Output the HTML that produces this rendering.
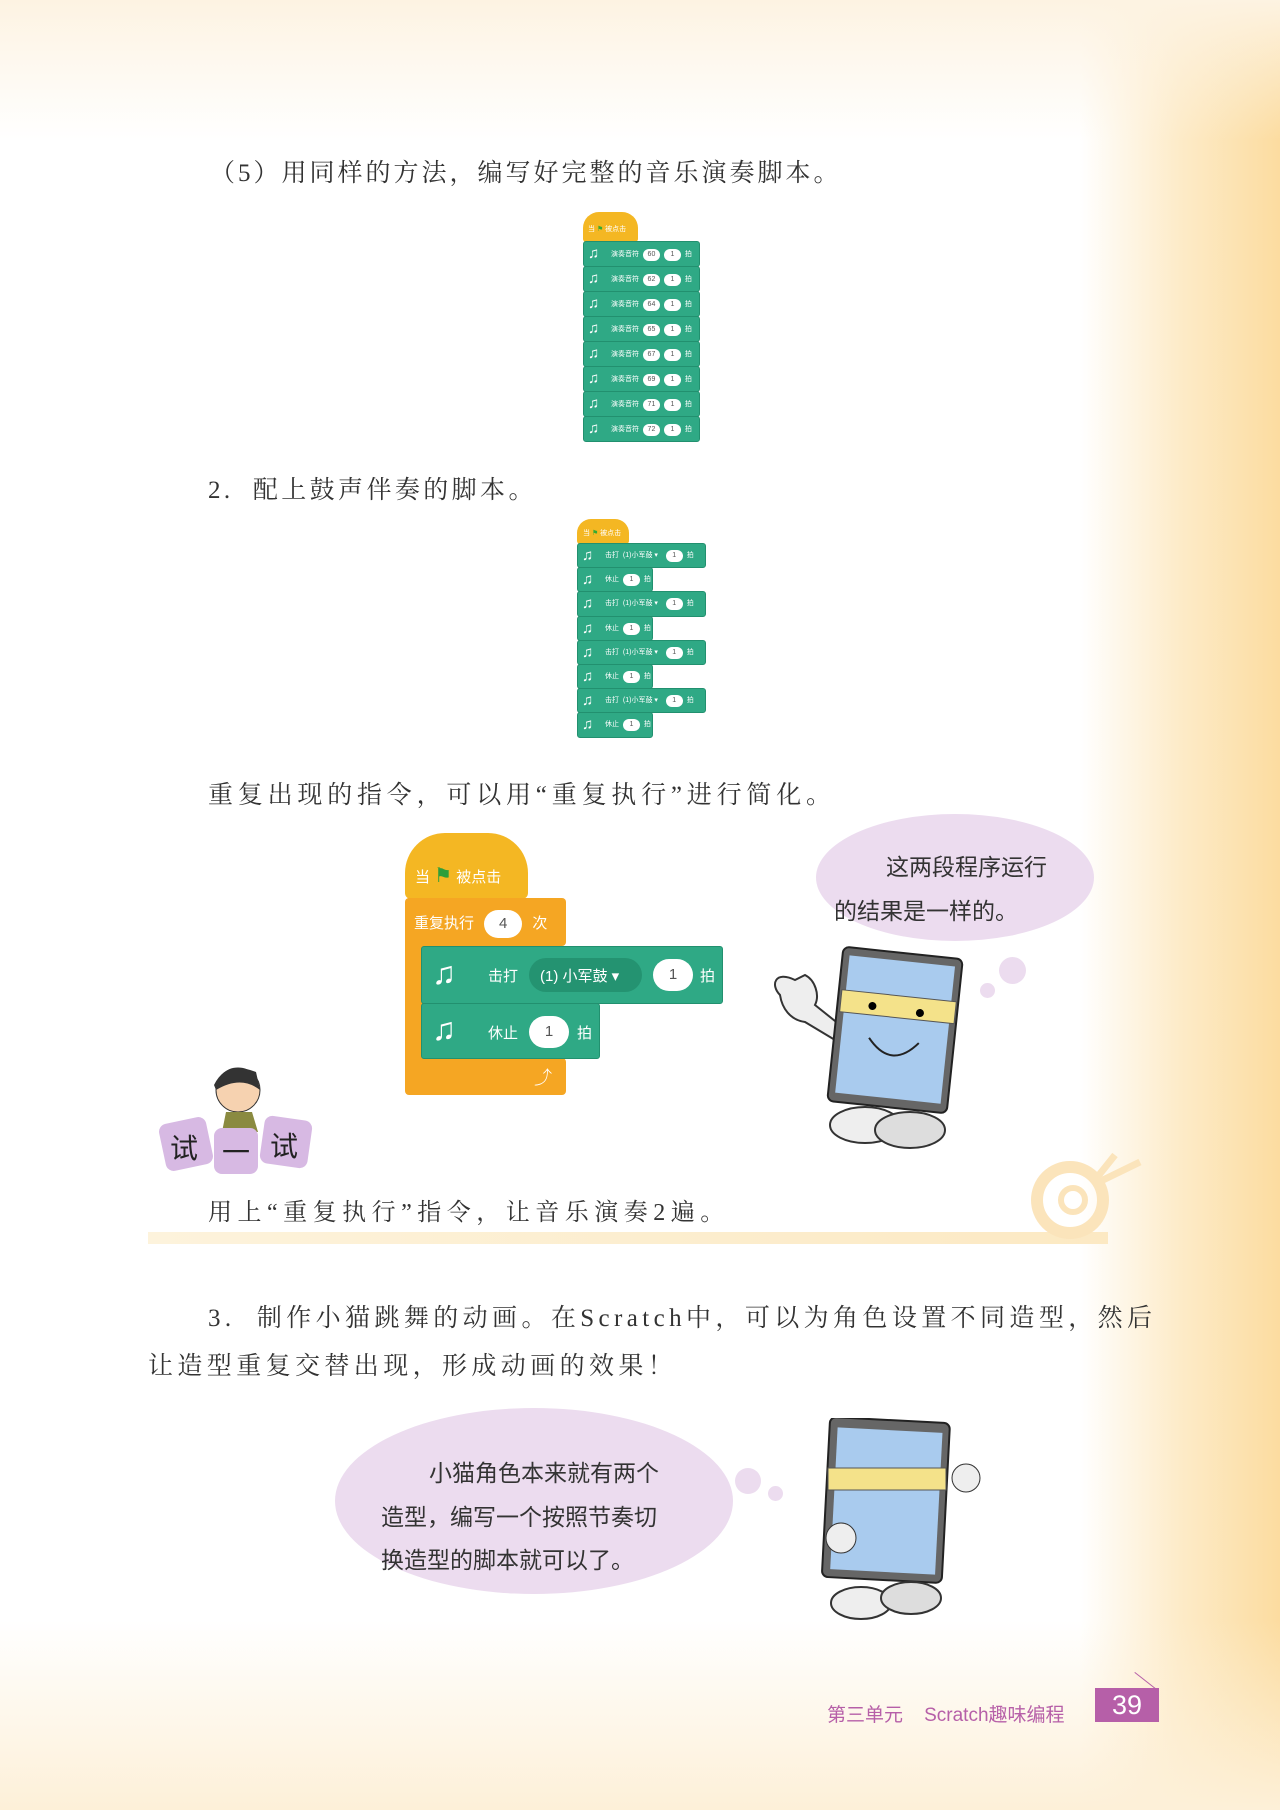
<!DOCTYPE html>
<html><head><meta charset="utf-8"><style>
*{margin:0;padding:0;box-sizing:border-box}
body{width:1280px;height:1810px;position:relative;overflow:hidden;background:#fff;font-family:"Liberation Serif","Noto Serif CJK SC",serif}
.bg{position:absolute;inset:0;background:linear-gradient(90deg,rgba(255,255,255,0) 0,rgba(255,255,255,0) 1080px,#fdebc8 1180px,#fcdca0 1280px)}
.bgt{position:absolute;left:0;top:0;width:1280px;height:140px;background:linear-gradient(180deg,#fdf3e2 0,rgba(255,255,255,0) 140px)}
.bgb{position:absolute;left:0;top:1620px;width:1280px;height:190px;background:linear-gradient(0deg,#fdf0d8 0,rgba(255,255,255,0) 190px)}
.t{position:absolute;font-size:25px;color:#333;white-space:nowrap;letter-spacing:1px}
.s{font-family:"Liberation Sans","Noto Sans CJK SC",sans-serif}
.ab{position:absolute}
.g{position:absolute;background:#2fa985;border:1px solid #22906f;border-radius:3px;color:#fff;font-family:"Liberation Sans","Noto Sans CJK SC",sans-serif;white-space:nowrap}
.ov{display:inline-block;background:#fff;color:#555;border-radius:10px;text-align:center}
</style></head><body>
<div class="bg"></div><div class="bgt"></div><div class="bgb"></div>

<div class="t" style="left:210px;top:153px;letter-spacing:3px">（5）用同样的方法，编写好完整的音乐演奏脚本。</div>

<div class="ab s" style="left:583px;top:212px;width:55px;height:30px;background:#f4b723;border-radius:16px 16px 3px 3px;color:#fff;font-size:7px;padding:12px 0 0 5px">当 <span style="color:#3a3">⚑</span> 被点击</div>
<div id="b1"></div>

<div class="t" style="left:208px;top:470px;letter-spacing:3.4px">2.&nbsp; 配上鼓声伴奏的脚本。</div>
<div class="ab s" style="left:577px;top:519px;width:52px;height:25px;background:#f4b723;border-radius:14px 14px 3px 3px;color:#fff;font-size:7px;padding:9px 0 0 6px">当 <span style="color:#3a3">⚑</span> 被点击</div>
<div id="b2"></div>

<div class="t" style="left:208px;top:775px;letter-spacing:4.8px">重复出现的指令，可以用“重复执行”进行简化。</div>

<div class="ab s" style="left:405px;top:833px;width:123px;height:66px;background:#f4b723;border-radius:40px 40px 6px 6px;color:#fff;font-size:15px;padding:30px 0 0 10px">当 <span style="color:#2e9e3a;font-size:20px">⚑</span> 被点击</div>
<div class="ab s" style="left:405px;top:898px;width:161px;height:48px;background:#f5a623;border-radius:4px;color:#fff;font-size:15px;padding:12px 0 0 9px">重复执行 <span class="ov" style="width:38px;height:28px;line-height:28px;border-radius:14px;margin:0 6px">4</span> 次</div>
<div class="ab" style="left:405px;top:940px;width:20px;height:125px;background:#f5a623"></div>
<div class="ab" style="left:405px;top:1058px;width:161px;height:37px;background:#f5a623;border-radius:0 4px 4px 4px;color:#fff;font-size:18px;text-align:right;padding:6px 14px 0 0">⤴</div>
<div class="g" style="left:421px;top:946px;width:302px;height:58px;font-size:15px">
<span style="position:absolute;left:10px;top:8px;font-size:32px">♫</span>
<span style="position:absolute;left:66px;top:18px">击打</span>
<span style="position:absolute;left:107px;top:11px;width:113px;height:34px;border-radius:17px;background:#249371;padding:7px 0 0 11px">(1) 小军鼓 ▾</span>
<span class="ov" style="position:absolute;left:231px;top:12px;width:40px;height:32px;line-height:32px;border-radius:16px">1</span>
<span style="position:absolute;left:278px;top:18px">拍</span></div>
<div class="g" style="left:421px;top:1003px;width:179px;height:56px;font-size:15px">
<span style="position:absolute;left:10px;top:7px;font-size:32px">♫</span>
<span style="position:absolute;left:66px;top:18px">休止</span>
<span class="ov" style="position:absolute;left:107px;top:12px;width:40px;height:32px;line-height:32px;border-radius:16px">1</span>
<span style="position:absolute;left:155px;top:18px">拍</span></div>

<div class="ab" style="left:816px;top:814px;width:278px;height:127px;border-radius:50%;background:#ecdcef"></div>
<div class="ab" style="left:999px;top:957px;width:27px;height:27px;border-radius:50%;background:#ecdcef"></div>
<div class="ab" style="left:980px;top:983px;width:15px;height:15px;border-radius:50%;background:#ecdcef"></div>
<div class="t s" style="left:886px;top:848px;font-size:23px;letter-spacing:0">这两段程序运行</div>
<div class="t s" style="left:834px;top:892px;font-size:23px;letter-spacing:0">的结果是一样的。</div>

<svg class="ab" style="left:760px;top:940px" width="230" height="225">
<path d="M20 55 C10 45 15 30 35 40 L45 35 C55 40 60 55 55 65 L80 85 L75 100 L45 82 C30 80 22 68 20 55Z" fill="#eee" stroke="#333" stroke-width="2"/>
<g transform="rotate(6 130 90)"><rect x="75" y="12" width="120" height="155" rx="6" fill="#666" stroke="#222" stroke-width="2"/>
<rect x="82" y="20" width="106" height="138" fill="#a9cbee"/>
<rect x="78" y="55" width="115" height="22" fill="#f4e28a" stroke="#555"/>
<circle cx="110" cy="68" r="4"/><circle cx="158" cy="70" r="4"/>
<path d="M110 100 Q135 130 160 100" fill="none" stroke="#222" stroke-width="2"/></g>
<ellipse cx="105" cy="185" rx="35" ry="18" fill="#eee" stroke="#333" stroke-width="2"/>
<ellipse cx="150" cy="190" rx="35" ry="18" fill="#ddd" stroke="#333" stroke-width="2"/>
</svg>

<svg class="ab" style="left:156px;top:1060px" width="160" height="120">
<circle cx="82" cy="30" r="22" fill="#f6d2b0" stroke="#333"/><path d="M58 25 Q70 0 100 12 L104 30 Q85 15 60 30Z" fill="#333"/>
<path d="M70 52 L96 52 L102 72 L66 72Z" fill="#8a8a40"/>
<rect x="6" y="60" width="48" height="48" rx="8" fill="#d7b9e3" transform="rotate(-12 30 84)"/>
<rect x="58" y="68" width="44" height="46" rx="8" fill="#d7b9e3"/>
<rect x="106" y="58" width="48" height="48" rx="8" fill="#d7b9e3" transform="rotate(8 130 82)"/>
<text x="14" y="98" font-size="28" font-family="Noto Sans CJK SC" fill="#222">试</text>
<text x="66" y="102" font-size="28" font-family="Noto Sans CJK SC" fill="#222">一</text>
<text x="114" y="96" font-size="28" font-family="Noto Sans CJK SC" fill="#222">试</text>
</svg>
<div class="t" style="left:208px;top:1192px;font-size:24px;letter-spacing:5.5px">用上“重复执行”指令，让音乐演奏2遍。</div>
<div class="ab" style="left:148px;top:1232px;width:960px;height:12px;background:linear-gradient(90deg,#fdf3dc,#fce9c3)"></div>
<svg class="ab" style="left:1015px;top:1140px" width="135" height="105"><circle cx="55" cy="60" r="33" fill="none" stroke="#fbe4bb" stroke-width="12"/><circle cx="58" cy="60" r="12" fill="none" stroke="#fbe4bb" stroke-width="6"/><path d="M80 40 L100 15 M88 40 L125 22" stroke="#fbe4bb" stroke-width="7"/></svg>

<div class="t" style="left:208px;top:1298px;font-size:25px;letter-spacing:4.4px">3.&nbsp; 制作小猫跳舞的动画。在Scratch中，可以为角色设置不同造型，然后</div>
<div class="t" style="left:148px;top:1346px;font-size:25px;letter-spacing:4.4px">让造型重复交替出现，形成动画的效果！</div>

<div class="ab" style="left:335px;top:1408px;width:398px;height:186px;border-radius:50%;background:#ecdcef"></div>
<div class="ab" style="left:735px;top:1468px;width:26px;height:26px;border-radius:50%;background:#ecdcef"></div>
<div class="ab" style="left:768px;top:1486px;width:15px;height:15px;border-radius:50%;background:#ecdcef"></div>
<div class="t s" style="left:429px;top:1454px;font-size:23px;letter-spacing:0">小猫角色本来就有两个</div>
<div class="t s" style="left:381px;top:1498px;font-size:23px;letter-spacing:0">造型，编写一个按照节奏切</div>
<div class="t s" style="left:381px;top:1541px;font-size:23px;letter-spacing:0">换造型的脚本就可以了。</div>

<svg class="ab" style="left:796px;top:1418px" width="190" height="210">
<rect x="30" y="2" width="120" height="160" rx="6" fill="#666" stroke="#222" stroke-width="2" transform="rotate(3 90 80)"/>
<rect x="38" y="12" width="105" height="142" fill="#a9cbee" transform="rotate(3 90 80)"/>
<rect x="32" y="50" width="118" height="22" fill="#f4e28a" stroke="#555"/>
<circle cx="45" cy="120" r="15" fill="#eee" stroke="#333"/><circle cx="170" cy="60" r="14" fill="#eee" stroke="#333"/>
<ellipse cx="65" cy="185" rx="30" ry="16" fill="#eee" stroke="#333" stroke-width="2"/>
<ellipse cx="115" cy="180" rx="30" ry="16" fill="#ddd" stroke="#333" stroke-width="2"/>
</svg>

<div class="t s" style="left:827px;top:1700px;font-size:19px;color:#b65fa8;letter-spacing:0">第三单元&nbsp;&nbsp;&nbsp; Scratch趣味编程</div>
<div class="ab s" style="left:1095px;top:1688px;width:64px;height:34px;background:#b65fa8;color:#fff;font-size:27px;text-align:center;line-height:34px">39</div>
<div class="ab" style="left:1135px;top:1672px;width:30px;height:1px;background:#b65fa8;transform:rotate(38deg);transform-origin:0 0"></div>

<script>
function mk(id,x,y,rows){var h='';rows.forEach(function(r,i){h+='<div class="g" style="left:'+x+'px;top:'+(y+i*r.h)+'px;width:'+r.w+'px;height:'+(r.h+1)+'px;font-size:7px"><span style="position:absolute;left:4px;top:3px;font-size:15px">♫</span><span style="position:absolute;left:27px;top:'+(r.h/2-6)+'px">'+r.t+'</span></div>'});document.getElementById(id).outerHTML=h;}
var o='<span class="ov" style="width:17px;height:12px;line-height:12px;margin:0 2px">';
var n=[60,62,64,65,67,69,71,72],a=[];
n.forEach(function(v){a.push({w:117,h:25,t:'演奏音符 '+o+v+'</span>'+o+'1</span> 拍'})});
mk('b1',583,241,a);
var b=[];for(var i=0;i<8;i++){b.push(i%2==0?{w:129,h:24.2,t:'击打 &nbsp;(1)小军鼓 ▾ &nbsp;&nbsp;'+o+'1</span> 拍'}:{w:76,h:24.2,t:'休止 '+o+'1</span> 拍'})}
mk('b2',577,543,b);
</script>
</body></html>
